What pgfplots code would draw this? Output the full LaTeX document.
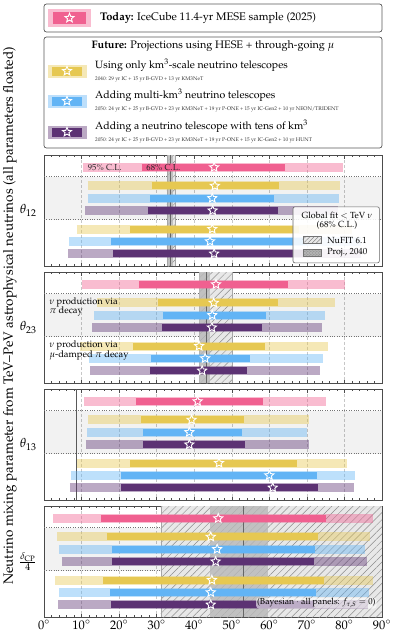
\documentclass[border=0pt]{standalone}
\usepackage[T1]{fontenc}
\usepackage{mathpazo}
\usepackage{pgfplots}
\pgfplotsset{compat=1.18}
\usetikzlibrary{patterns,patterns.meta,shapes.geometric}

\definecolor{cpink}{RGB}{240,96,144}
\definecolor{cyel}{RGB}{230,200,82}
\definecolor{cblue}{RGB}{98,180,245}
\definecolor{cpurp}{RGB}{92,50,115}

\pgfdeclareplotmark{ostar}{%
  \pgfpathmoveto{\pgfpointpolar{90}{\pgfplotmarksize}}%
  \pgfpathlineto{\pgfpointpolar{126}{0.45\pgfplotmarksize}}%
  \pgfpathlineto{\pgfpointpolar{162}{\pgfplotmarksize}}%
  \pgfpathlineto{\pgfpointpolar{198}{0.45\pgfplotmarksize}}%
  \pgfpathlineto{\pgfpointpolar{234}{\pgfplotmarksize}}%
  \pgfpathlineto{\pgfpointpolar{270}{0.45\pgfplotmarksize}}%
  \pgfpathlineto{\pgfpointpolar{306}{\pgfplotmarksize}}%
  \pgfpathlineto{\pgfpointpolar{342}{0.45\pgfplotmarksize}}%
  \pgfpathlineto{\pgfpointpolar{18}{\pgfplotmarksize}}%
  \pgfpathlineto{\pgfpointpolar{54}{0.45\pgfplotmarksize}}%
  \pgfpathclose\pgfusepathqstroke}

% #1 colour, #2 row, #3 lo95, #4 lo68, #5 best, #6 hi68, #7 hi95
\newcommand{\brow}[7]{%
  \addplot[line width=9bp, color=#1, opacity=0.42, forget plot] coordinates {(#3,#2) (#7,#2)};
  \addplot[line width=7bp, color=#1, forget plot] coordinates {(#4,#2) (#6,#2)};
  \addplot[only marks, mark=ostar, mark size=4.8bp, mark options={draw=white, line width=0.9bp}, forget plot] coordinates {(#5,#2)};
}
\newcommand{\panelbg}{%
  \fill[black, fill opacity=0.05] (axis cs:0,1.75) rectangle (axis cs:90,5.25);
  \draw[black!55, dash pattern=on 1bp off 1.4bp, line width=0.7bp] (axis cs:0,1.75) -- (axis cs:90,1.75);
  \draw[black!55, dash pattern=on 1bp off 1.4bp, line width=0.7bp] (axis cs:0,5.25) -- (axis cs:90,5.25);
}
\newcommand{\hband}[2]{%
  \fill[black!9] (axis cs:#1,0) rectangle (axis cs:#2,9);
  \fill[pattern={Lines[angle=45,distance=5bp,line width=0.45bp]}, pattern color=black!45] (axis cs:#1,0) rectangle (axis cs:#2,9);
  \draw[black!35, line width=0.4bp] (axis cs:#1,0) -- (axis cs:#1,9) (axis cs:#2,0) -- (axis cs:#2,9);
}
\newcommand{\pband}[3]{%
  \fill[black!28, fill opacity=0.8] (axis cs:#1,0) rectangle (axis cs:#2,9);
  \draw[black!60, line width=0.8bp] (axis cs:#3,0) -- (axis cs:#3,9);
}

\pgfplotsset{panel/.style={
  scale only axis, width=338bp, height=111bp,
  xmin=0, xmax=90, ymin=0, ymax=9, y dir=reverse,
  ytick=\empty, xtick={0,10,...,90}, minor x tick num=4,
  tick pos=both, tick align=inside,
  major tick length=3.5bp, minor tick length=2bp,
  xmajorgrids, major grid style={densely dashed, black!22, line width=0.4bp},
  axis line style={black!70, line width=0.7bp},
  every tick/.style={black!70, line width=0.5bp},
  xticklabels={}, anchor=north west, clip=true,
  tick label style={font=\fontsize{12.5}{14}\selectfont},
}}

\begin{document}
\begin{tikzpicture}
\path[use as bounding box] (0,0) rectangle (397bp,-640bp);

% ---------- top legend ----------
\draw[rounded corners=2.5bp, draw=black!65, line width=0.7bp, fill=white] (44bp,-4bp) rectangle (382bp,-32bp);
\fill[cpink!42!white] (48bp,-9bp) rectangle (91bp,-27bp);
\fill[cpink] (53bp,-12bp) rectangle (86bp,-24bp);
\node[star, star points=5, star point ratio=2.3, draw=white, line width=0.9bp, minimum size=9.5bp, inner sep=0pt] at (69.5bp,-18bp) {};
\node[anchor=west, inner sep=0pt] at (100bp,-18bp) {\fontsize{11.1}{13}\selectfont\textbf{Today:} IceCube 11.4-yr MESE sample (2025)};

\draw[rounded corners=2.5bp, draw=black!65, line width=0.7bp, fill=white] (44bp,-37bp) rectangle (382bp,-148bp);
\node[inner sep=0pt] at (213bp,-46bp) {\fontsize{10.9}{13}\selectfont\textbf{Future:} Projections using HESE + through-going $\mu$};

\foreach \yy/\cc/\ta/\tb in {71/cyel/{Using only km$^3$-scale neutrino telescopes}/{2040: 29 yr IC + 15 yr B-GVD + 13 yr KM3NeT},
  101/cblue/{Adding multi-km$^3$ neutrino telescopes}/{2050: 24 yr IC + 25 yr B-GVD + 23 yr KM3NeT + 19 yr P-ONE + 15 yr IC-Gen2 + 10 yr NEON/TRIDENT},
  132/cpurp/{Adding a neutrino telescope with tens of km$^3$}/{2050: 24 yr IC + 25 yr B-GVD + 23 yr KM3NeT + 19 yr P-ONE + 15 yr IC-Gen2 + 10 yr HUNT}}{
  \fill[\cc!42!white] (48bp,-\yy bp+6.5bp) rectangle (87bp,-\yy bp-6.5bp);
  \fill[\cc] (52bp,-\yy bp+4.5bp) rectangle (82bp,-\yy bp-4.5bp);
  \node[star, star points=5, star point ratio=2.3, draw=white, line width=0.9bp, minimum size=9.5bp, inner sep=0pt] at (67bp,-\yy bp) {};
  \node[anchor=west, inner sep=0pt] at (95bp,-\yy bp+6bp) {\fontsize{10.6}{12}\selectfont \ta};
  \node[anchor=west, inner sep=0pt, text=black!80] at (95bp,-\yy bp-8bp) {\fontsize{5.3}{6}\selectfont \tb};
}

% ---------- panel 1: theta12 ----------
\begin{axis}[panel, name=p1, at={(44bp,-155bp)}]
\panelbg
\hband{32.7}{34.9}
\pband{33.1}{34.3}{33.7}
\brow{cpink}{1}{10.3}{26.0}{45.3}{64.2}{79.5}
\brow{cyel}{2.5}{11.6}{28.7}{45.5}{62.6}{78.8}
\brow{cblue}{3.5}{11.6}{28.2}{44.8}{61.3}{78.6}
\brow{cpurp}{4.5}{11.0}{27.6}{44.9}{62.4}{78.2}
\brow{cyel}{6}{8.7}{22.9}{44.8}{68.0}{82.0}
\brow{cblue}{7}{6.7}{17.8}{44.2}{70.0}{84.5}
\brow{cpurp}{8}{6.5}{18.5}{45.3}{70.0}{84.5}
\node[font=\fontsize{8.7}{10}\selectfont, text=black!85, inner sep=0.5bp] at (axis cs:16.2,1) {95\% C.L.};
\node[font=\fontsize{8.7}{10}\selectfont, text=black!85, inner sep=0.5bp] at (axis cs:31.8,1) {68\% C.L.};
% NuFIT legend
\draw[rounded corners=2bp, fill=white, fill opacity=0.88, draw=black!60, line width=0.6bp] (axis cs:66.3,4.2) rectangle (axis cs:89.3,8.75);
\node[font=\fontsize{8.9}{10}\selectfont] at (axis cs:78,4.87) {Global fit $<$ TeV $\nu$};
\node[font=\fontsize{8.9}{10}\selectfont] at (axis cs:78,5.68) {(68\% C.L.)};
\fill[black!9] (axis cs:68.9,6.62) rectangle (axis cs:73.9,7.18);
\fill[pattern={Lines[angle=45,distance=3bp,line width=0.4bp]}, pattern color=black!55] (axis cs:68.9,6.62) rectangle (axis cs:73.9,7.18);
\draw[black!55, line width=0.4bp] (axis cs:68.9,6.62) rectangle (axis cs:73.9,7.18);
\node[font=\fontsize{8.9}{10}\selectfont, anchor=west, inner sep=0pt] at (axis cs:75.4,6.9) {NuFIT 6.1};
\fill[black!30] (axis cs:68.9,7.64) rectangle (axis cs:73.9,8.2);
\fill[pattern=crosshatch dots, pattern color=black!50] (axis cs:68.9,7.64) rectangle (axis cs:73.9,8.2);
\draw[black!55, line width=0.4bp] (axis cs:68.9,7.64) rectangle (axis cs:73.9,8.2);
\node[font=\fontsize{8.9}{10}\selectfont, anchor=west, inner sep=0pt] at (axis cs:75.4,7.92) {Proj., 2040};
\end{axis}

% ---------- panel 2: theta23 ----------
\begin{axis}[panel, name=p2, at={(44bp,-272bp)}]
\panelbg
\hband{41.3}{50.1}
\pband{41.3}{44.2}{43.2}
\brow{cpink}{1}{10.0}{25.3}{45.8}{65.0}{80.1}
\brow{cyel}{2.5}{14.0}{30.4}{45.2}{62.2}{77.5}
\brow{cblue}{3.5}{13.4}{31.8}{44.8}{59.1}{74.9}
\brow{cpurp}{4.5}{12.8}{31.5}{44.7}{58.0}{74.1}
\brow{cyel}{6}{9.6}{23.8}{41.3}{58.8}{75.7}
\brow{cblue}{7}{12.1}{28.4}{42.9}{54.8}{74.2}
\brow{cpurp}{8}{12.2}{28.2}{42.1}{54.1}{73.6}
\node[font=\fontsize{9.4}{11}\selectfont, anchor=west, align=left, inner sep=0pt] at (axis cs:1.4,2.85) {$\nu$ production via\\[-1.5bp]$\pi$ decay};
\node[font=\fontsize{9.4}{11}\selectfont, anchor=west, align=left, inner sep=0pt] at (axis cs:1.4,6.35) {$\nu$ production via\\[-1.5bp]$\mu$-damped $\pi$ decay};
\end{axis}

% ---------- panel 3: theta13 ----------
\begin{axis}[panel, name=p3, at={(44bp,-389bp)}]
\panelbg
\draw[black!65, line width=0.8bp] (axis cs:8.7,0) -- (axis cs:8.7,9);
\brow{cpink}{1}{10.7}{24.4}{40.9}{58.4}{75.0}
\brow{cyel}{2.5}{11.8}{25.8}{39.3}{53.2}{70.6}
\brow{cblue}{3.5}{11.4}{26.4}{38.7}{52.8}{70.1}
\brow{cpurp}{4.5}{11.1}{26.4}{38.7}{53.5}{70.6}
\brow{cyel}{6}{8.7}{22.9}{46.6}{67.3}{80.6}
\brow{cblue}{7}{7.1}{20.4}{60.0}{72.6}{82.8}
\brow{cpurp}{8}{6.9}{20.5}{60.9}{73.0}{82.6}
\end{axis}

% ---------- panel 4: deltaCP/4 ----------
\begin{axis}[panel, name=p4, at={(44bp,-506bp)},
  xticklabels={$0^\circ$,$10^\circ$,$20^\circ$,$30^\circ$,$40^\circ$,$50^\circ$,$60^\circ$,$70^\circ$,$80^\circ$,$90^\circ$},
  xtick pos=both, xticklabel pos=bottom]
\panelbg
\hband{31.1}{90}
\pband{44.2}{59.6}{53.2}
\brow{cpink}{1}{2.5}{15.2}{46.4}{75.2}{87.7}
\brow{cyel}{2.5}{3.5}{16.7}{44.4}{73.0}{86.8}
\brow{cblue}{3.5}{4.0}{18.2}{46.1}{72.1}{85.6}
\brow{cpurp}{4.5}{4.7}{18.2}{45.7}{71.9}{86.1}
\brow{cyel}{6}{2.9}{15.8}{44.7}{74.5}{87.5}
\brow{cblue}{7}{4.0}{17.6}{44.4}{72.4}{86.5}
\brow{cpurp}{8}{3.8}{17.8}{44.4}{72.0}{86.2}
\node[font=\fontsize{8.7}{10}\selectfont, anchor=east, fill=white, fill opacity=0.6, text opacity=1, rounded corners=3bp, inner sep=1bp] at (axis cs:88.6,7.87) {(Bayesian $\cdot$ all panels: $f_{\tau,S}=0$)};
\end{axis}

% ---------- labels ----------
\node[anchor=east, font=\fontsize{13}{14}\selectfont] at ([xshift=-4bp]p1.west) {$\theta_{12}$};
\node[anchor=east, font=\fontsize{13}{14}\selectfont] at ([xshift=-4bp]p2.west) {$\theta_{23}$};
\node[anchor=east, font=\fontsize{13}{14}\selectfont] at ([xshift=-4bp]p3.west) {$\theta_{13}$};
\node[anchor=east, font=\fontsize{13}{14}\selectfont] at ([xshift=-4bp]p4.west) {$\frac{\delta_{\mathrm{CP}}}{4}$};
\node[rotate=90, font=\fontsize{13.5}{15}\selectfont, inner sep=0pt] at (10bp,-316bp) {Neutrino mixing parameter from TeV--PeV astrophysical neutrinos (all parameters floated)};
\end{tikzpicture}
\end{document}
